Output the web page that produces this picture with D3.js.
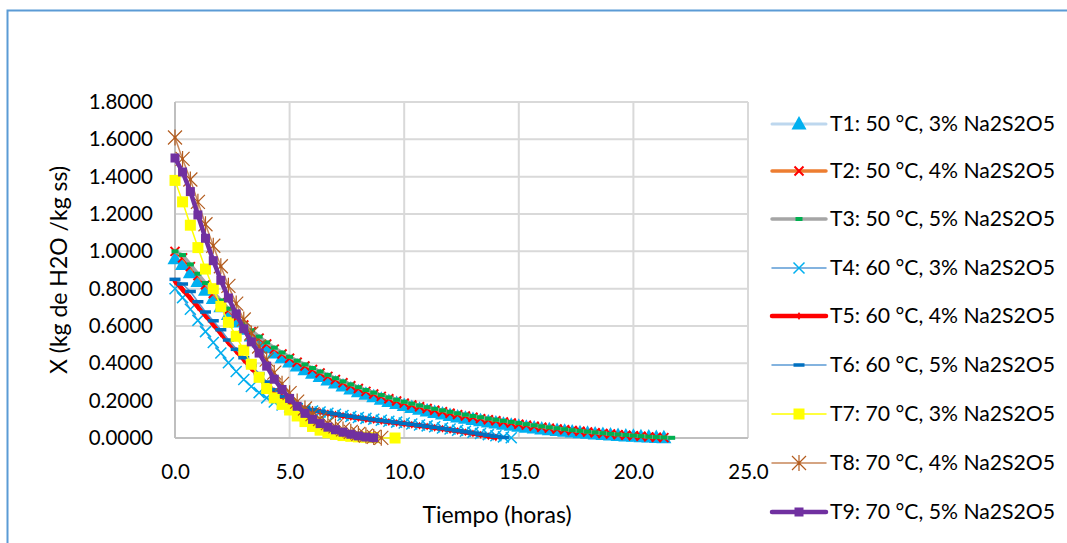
<!DOCTYPE html>
<html><head><meta charset="utf-8">
<script src="https://cdn.jsdelivr.net/npm/d3@7"></script>
<style>
body{margin:0;background:#fff;}
text{font-family:Lato,"Open Sans",sans-serif;fill:#000;}
</style>
</head><body>
<svg id="c" width="1067" height="543"></svg>
<script>
// ---- data ----
const tA=[0,0.33,0.67,1,1.33,1.67,2,2.33,2.67,3,3.33,3.67,4,4.33,4.67,5,5.33,5.67,6,6.33,6.67,7,7.33,7.67,8,8.33,8.67,9,9.33,9.67,10,10.33,10.67,11,11.33,11.67,12,12.33,12.67,13,13.33,13.67,14,14.33,14.67,15,15.33,15.67,16,16.33,16.67,17,17.33,17.67,18,18.33,18.67,19,19.33,19.67,20,20.33,20.67,21,21.33,21.67];
const tB=[0,0.33,0.67,1,1.33,1.67,2,2.33,2.67,3,3.33,3.67,4,4.33,4.67,5,5.33,5.67,6,6.33,6.67,7,7.33,7.67,8,8.33,8.67,9,9.33,9.67,10,10.33,10.67,11,11.33,11.67,12,12.33,12.67,13,13.33,13.67,14,14.33,14.67];
const tC=[0,0.33,0.67,1,1.33,1.67,2,2.33,2.67,3,3.33,3.67,4,4.33,4.67,5,5.33,5.67,6,6.33,6.67,7,7.33,7.67,8,8.33,8.67,9];
const tT7=[0,0.33,0.67,1,1.33,1.67,2,2.33,2.67,3,3.33,3.67,4,4.33,4.67,5,5.33,5.67,6,6.33,6.67,7,7.33,7.67,8,8.33,8.67,9.6];

const T1=[0.960,0.930,0.885,0.838,0.792,0.747,0.703,0.661,0.621,0.583,0.547,0.514,0.483,0.455,0.430,0.407,0.386,0.366,0.347,0.329,0.311,0.294,0.278,0.263,0.248,0.234,0.221,0.208,0.196,0.185,0.174,0.164,0.154,0.145,0.136,0.128,0.120,0.113,0.106,0.099,0.092,0.086,0.080,0.074,0.068,0.063,0.058,0.053,0.048,0.044,0.040,0.036,0.032,0.028,0.025,0.022,0.019,0.016,0.013,0.011,0.009,0.007,0.005,0.003,0.001];
const T2=[1.000,0.965,0.918,0.870,0.821,0.774,0.729,0.685,0.644,0.605,0.569,0.535,0.504,0.476,0.450,0.427,0.406,0.386,0.367,0.348,0.330,0.313,0.296,0.280,0.265,0.250,0.236,0.223,0.210,0.198,0.187,0.177,0.167,0.158,0.149,0.141,0.133,0.125,0.118,0.111,0.104,0.098,0.092,0.086,0.080,0.074,0.069,0.063,0.058,0.053,0.048,0.044,0.040,0.036,0.032,0.028,0.024,0.021,0.018,0.015,0.012,0.009,0.006,0.004,0.002];
const T3=[1.000,0.980,0.930,0.880,0.830,0.782,0.737,0.693,0.652,0.613,0.577,0.543,0.512,0.484,0.458,0.435,0.414,0.394,0.375,0.356,0.338,0.320,0.303,0.287,0.272,0.257,0.243,0.230,0.217,0.205,0.194,0.184,0.174,0.165,0.156,0.148,0.140,0.132,0.125,0.118,0.111,0.104,0.098,0.092,0.086,0.080,0.074,0.068,0.062,0.057,0.052,0.047,0.042,0.038,0.034,0.030,0.026,0.022,0.019,0.016,0.013,0.010,0.007,0.005,0.003,0.001];
const T4=[0.800,0.752,0.690,0.630,0.570,0.512,0.455,0.403,0.356,0.313,0.276,0.243,0.215,0.193,0.177,0.166,0.158,0.151,0.145,0.139,0.133,0.127,0.121,0.115,0.110,0.105,0.100,0.095,0.090,0.085,0.080,0.075,0.070,0.065,0.060,0.054,0.048,0.042,0.036,0.030,0.024,0.018,0.012,0.006,0.001];
const T5=[0.840,0.795,0.748,0.702,0.656,0.608,0.560,0.512,0.466,0.420,0.375,0.330,0.288,0.250,0.218,0.192,0.172,0.158,0.148,0.140,0.133,0.126,0.119,0.113,0.107,0.101,0.096,0.091,0.086,0.081,0.076,0.071,0.066,0.061,0.055,0.049,0.043,0.037,0.031,0.024,0.017,0.010,0.003];
const T6=[0.850,0.825,0.785,0.730,0.675,0.628,0.580,0.525,0.475,0.430,0.388,0.345,0.300,0.258,0.222,0.195,0.176,0.162,0.151,0.143,0.136,0.129,0.122,0.116,0.110,0.104,0.098,0.093,0.088,0.083,0.078,0.073,0.068,0.063,0.057,0.051,0.045,0.039,0.033,0.027,0.021,0.015,0.009,0.003];
const T7=[1.380,1.265,1.140,1.020,0.905,0.800,0.705,0.620,0.545,0.470,0.395,0.325,0.265,0.215,0.180,0.150,0.118,0.088,0.062,0.042,0.028,0.019,0.013,0.009,0.006,0.004,0.002,0.000];
const T8=[1.610,1.495,1.385,1.265,1.145,1.030,0.920,0.815,0.720,0.635,0.560,0.490,0.420,0.350,0.290,0.240,0.195,0.158,0.128,0.102,0.080,0.062,0.046,0.033,0.022,0.013,0.006,0.001];
const T9=[1.500,1.425,1.320,1.195,1.070,0.950,0.845,0.750,0.665,0.585,0.515,0.455,0.385,0.315,0.260,0.212,0.170,0.132,0.100,0.077,0.058,0.044,0.031,0.020,0.011,0.005,0.001];

const seriesNames=["T1: 50 °C, 3% Na2S2O5","T2: 50 °C, 4% Na2S2O5","T3: 50 °C, 5% Na2S2O5","T4: 60 °C, 3% Na2S2O5","T5: 60 °C, 4% Na2S2O5","T6: 60 °C, 5% Na2S2O5","T7: 70 °C, 3% Na2S2O5","T8: 70 °C, 4% Na2S2O5","T9: 70 °C, 5% Na2S2O5"];
const xTicks=[0,5,10,15,20,25];
const yTicks=[0,0.2,0.4,0.6,0.8,1.0,1.2,1.4,1.6,1.8];
const xTitle="Tiempo (horas)";
const yTitle="X (kg de H2O /kg ss)";

// ---- styles ----
const styles=[
 {line:"#BDD7EE",lw:3,marker:"tri",mc:"#00B0F0"},
 {line:"#ED7D31",lw:3.5,marker:"x",mc:"#FF0000",ms:4.5,msw:2},
 {line:"#A5A5A5",lw:3.5,marker:"rect",mc:"#00B050",rw:7,rh:4},
 {line:"#5B9BD5",lw:1.5,marker:"x",mc:"#00B0F0",ms:5.5,msw:1.5},
 {line:"#FF0000",lw:4.5,marker:"diamond",mc:"#FF0000"},
 {line:"#5B9BD5",lw:1.5,marker:"rect",mc:"#0070C0",rw:11,rh:3.5},
 {line:"#FFFF00",lw:1.5,marker:"rect",mc:"#FFFF00",rw:11,rh:11},
 {line:"#C8875A",lw:1.5,marker:"star",mc:"#B35C1E"},
 {line:"#7030A0",lw:4.5,marker:"rect",mc:"#7030A0",rw:9,rh:9}
];
const times=[tA,tA,tA,tB,tB,tB,tT7,tC,tC];
const vals=[T1,T2,T3,T4,T5,T6,T7,T8,T9];

const svg=d3.select("#c");
// outer chart border
svg.append("rect").attr("x",7.5).attr("y",10.5).attr("width",1100).attr("height",560)
  .attr("fill","none").attr("stroke","#5B9BD5").attr("stroke-width",2);

const x=d3.scaleLinear().domain([0,25]).range([175,748]);
const y=d3.scaleLinear().domain([0,1.8]).range([438,102]);

// gridlines
const grid=svg.append("g");
grid.selectAll(".h").data(yTicks).join("line")
 .attr("x1",x(0)).attr("x2",x(25)).attr("y1",d=>y(d)).attr("y2",d=>y(d))
 .attr("stroke","#D9D9D9").attr("stroke-width",2);
grid.selectAll(".v").data(xTicks).join("line")
 .attr("y1",y(0)).attr("y2",y(1.8)).attr("x1",d=>x(d)).attr("x2",d=>x(d))
 .attr("stroke","#D9D9D9").attr("stroke-width",2);
// axis lines
svg.append("line").attr("x1",x(0)).attr("x2",x(0)).attr("y1",y(0)).attr("y2",y(1.8)).attr("stroke","#BFBFBF").attr("stroke-width",2);
svg.append("line").attr("x1",x(0)).attr("x2",x(25)).attr("y1",y(0)).attr("y2",y(0)).attr("stroke","#BFBFBF").attr("stroke-width",2);

// axes labels
const ya=svg.append("g").attr("transform",`translate(${x(0)},0)`)
 .call(d3.axisLeft(y).tickValues(yTicks).tickFormat(d3.format(".4f")).tickSize(0).tickPadding(22));
ya.select(".domain").remove();
ya.selectAll("text").attr("font-size",20.5).attr("font-family","Lato");
const xa=svg.append("g").attr("transform",`translate(0,${y(0)})`)
 .call(d3.axisBottom(x).tickValues(xTicks).tickFormat(d3.format(".1f")).tickSize(0).tickPadding(26));
xa.select(".domain").remove();
xa.selectAll("text").attr("font-size",20.5).attr("font-family","Lato");

svg.append("text").attr("x",497).attr("y",523).attr("text-anchor","middle").attr("font-size",23).text(xTitle);
svg.append("text").attr("transform","translate(67,270) rotate(-90)").attr("text-anchor","middle").attr("font-size",23).text(yTitle);

function marker(g,s){
  const c=s.mc;
  if(s.marker==="tri"){
    g.append("path").attr("d","M0,-8L7.5,5.5L-7.5,5.5Z").attr("fill",c);
  } else if(s.marker==="x"){
    const m=s.ms;
    g.append("path").attr("d",`M${-m},${-m}L${m},${m}M${-m},${m}L${m},${-m}`).attr("stroke",c).attr("stroke-width",s.msw).attr("fill","none");
  } else if(s.marker==="rect"){
    g.append("rect").attr("x",-s.rw/2).attr("y",-s.rh/2).attr("width",s.rw).attr("height",s.rh).attr("fill",c);
  } else if(s.marker==="diamond"){
    g.append("path").attr("d","M0,-4L2.5,0L0,4L-2.5,0Z").attr("fill",c);
  } else if(s.marker==="star"){
    g.append("path").attr("d","M-7,-7L7,7M-7,7L7,-7M0,-8L0,8").attr("stroke",c).attr("stroke-width",1.2).attr("fill","none");
    g.append("circle").attr("r",1.5).attr("fill",c);
  }
}

const line=d3.line().x(d=>x(d[0])).y(d=>y(d[1]));
vals.forEach((v,i)=>{
  const s=styles[i];
  const pts=v.map((val,j)=>[times[i][j],val]);
  const g=svg.append("g");
  g.append("path").datum(pts).attr("d",line).attr("fill","none").attr("stroke",s.line).attr("stroke-width",s.lw).attr("stroke-linejoin","round");
  g.selectAll("g.m").data(pts).join("g").attr("class","m")
    .attr("transform",d=>`translate(${x(d[0])},${y(d[1])})`).each(function(){marker(d3.select(this),s);});
});

// legend
const legY=[124,171,219,268,316,365,414,463,512];
seriesNames.forEach((n,i)=>{
  const s=styles[i];
  const g=svg.append("g").attr("transform",`translate(0,${legY[i]})`);
  g.append("line").attr("x1",772).attr("x2",826).attr("stroke",s.line).attr("stroke-width",s.lw).attr("stroke-linecap","round");
  const mg=g.append("g").attr("transform","translate(799,0)");
  marker(mg,s);
  g.append("text").attr("x",830).attr("y",0).attr("dy","0.35em").attr("font-size",21.2).text(n);
});
</script>
</body></html>
